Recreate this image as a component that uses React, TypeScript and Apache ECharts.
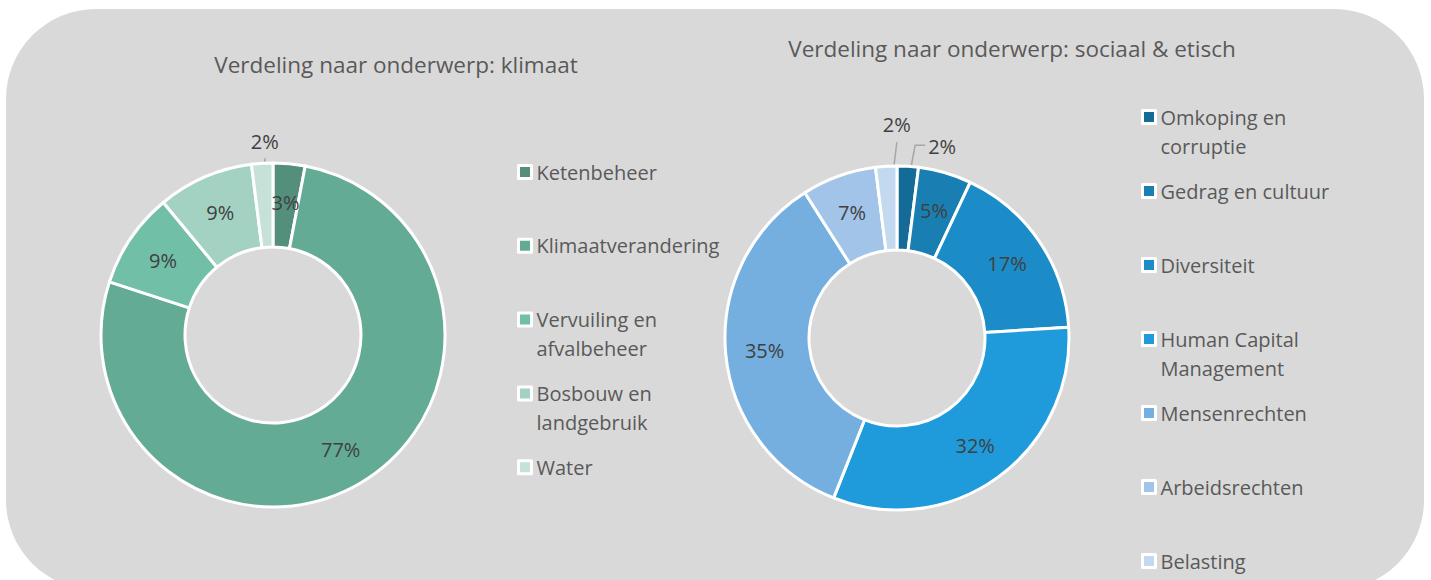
import React, { useEffect, useRef } from "react";
import * as echarts from "echarts";

// ---- Data ----
const climateTitle = "Verdeling naar onderwerp: klimaat";
const climateCategories = [
  "Ketenbeheer",
  "Klimaatverandering",
  "Vervuiling en\nafvalbeheer",
  "Bosbouw en\nlandgebruik",
  "Water",
];
const climateValues = [3, 77, 9, 9, 2];
const climateColors = ["#548f7b", "#64ab96", "#71bfa7", "#a3d1c2", "#c6e2d8"];

const socialTitle = "Verdeling naar onderwerp: sociaal & etisch";
const socialCategories = [
  "Omkoping en\ncorruptie",
  "Gedrag en cultuur",
  "Diversiteit",
  "Human Capital\nManagement",
  "Mensenrechten",
  "Arbeidsrechten",
  "Belasting",
];
const socialValues = [2, 5, 17, 32, 35, 7, 2];
const socialColors = ["#156b97", "#197fb2", "#1b8cc7", "#1f9bdb", "#74afdf", "#a1c4e8", "#c3d9f0"];

// ---- Layout ----
const FONT = '"Open Sans", "Noto Sans", sans-serif';
const LINE_H = 29;
const R_IN = 88;
const R_OUT = 172;
const R_MID = (R_IN + R_OUT) / 2;

type Leader = "up" | "elbow" | "slant";
interface PieCfg {
  title: string;
  titleX: number;
  titleY: number;
  center: [number, number];
  names: string[];
  values: number[];
  colors: string[];
  legendLeft: number;
  legendFirstY: number;
  legendStep: number;
  leaders: Record<number, Leader>;
}

const pies: PieCfg[] = [
  {
    title: climateTitle,
    titleX: 396,
    titleY: 64,
    center: [273, 335],
    names: climateCategories,
    values: climateValues,
    colors: climateColors,
    legendLeft: 517,
    legendFirstY: 172,
    legendStep: 73.8,
    leaders: { 4: "up" },
  },
  {
    title: socialTitle,
    titleX: 1012,
    titleY: 48,
    center: [897, 338],
    names: socialCategories,
    values: socialValues,
    colors: socialColors,
    legendLeft: 1141,
    legendFirstY: 117,
    legendStep: 74,
    leaders: { 0: "elbow", 6: "slant" },
  },
];

function midAngle(values: number[], idx: number): number {
  const total = values.reduce((a, b) => a + b, 0);
  let cum = 0;
  for (let j = 0; j < idx; j++) cum += values[j];
  return ((cum + values[idx] / 2) / total) * Math.PI * 2;
}

export default function App() {
  const ref = useRef<HTMLDivElement>(null);

  useEffect(() => {
    if (!ref.current) return;
    const chart = echarts.init(ref.current, undefined, { renderer: "svg" });

    const series = pies.map((c) => ({
      type: "pie",
      center: c.center,
      radius: [R_IN, R_OUT],
      startAngle: 90,
      clockwise: true,
      avoidLabelOverlap: false,
      emphasis: { disabled: true },
      itemStyle: { borderColor: "#ffffff", borderWidth: 3 },
      label: {
        show: true,
        position: "inside",
        color: "#404040",
        fontSize: 20,
        fontFamily: FONT,
        formatter: (p: any) => `${Math.round(p.percent)}%`,
      },
      labelLine: { show: false },
      data: c.names.map((n, i) => {
        const item: any = { name: n, value: c.values[i], itemStyle: { color: c.colors[i] } };
        if (c.leaders[i]) {
          item.label = { position: "outside" };
          item.labelLine = {
            show: true,
            length: 10,
            length2: 10,
            lineStyle: { color: "#a6a6a6", width: 1.5 },
          };
        }
        return item;
      }),
      labelLayout: (params: any) => {
        const kind = c.leaders[params.dataIndex];
        if (!kind) return {};
        const a = midAngle(c.values, params.dataIndex);
        const sx = c.center[0] + R_MID * Math.sin(a);
        const sy = c.center[1] - R_MID * Math.cos(a);
        if (kind === "up") {
          return {
            x: sx,
            y: sy - 64,
            align: "center",
            verticalAlign: "middle",
            labelLinePoints: [
              [sx, sy],
              [sx, sy - 30],
              [sx, sy - 47],
            ],
          };
        }
        if (kind === "elbow") {
          return {
            x: sx + 23,
            y: sy - 62,
            align: "left",
            verticalAlign: "middle",
            labelLinePoints: [
              [sx - 2, sy],
              [sx + 10, sy - 63],
              [sx + 20, sy - 63],
            ],
          };
        }
        return {
          x: sx + 8,
          y: sy - 84,
          align: "center",
          verticalAlign: "middle",
          labelLinePoints: [
            [sx, sy],
            [sx + 4, sy - 33],
            [sx + 8, sy - 66],
          ],
        };
      },
    }));

    const legends = pies.flatMap((c) =>
      c.names.map((n, i) => {
        const lines = n.split("\n").length;
        const H = LINE_H * (2 * lines - 1);
        const y = c.legendFirstY + i * c.legendStep;
        return {
          data: [n],
          orient: "vertical",
          left: c.legendLeft,
          top: y - H / 2,
          padding: 0,
          icon: "rect",
          itemWidth: 13,
          itemHeight: 13,
          itemStyle: { borderColor: "#ffffff", borderWidth: 3 },
          selectedMode: false,
          // Multi-line names get leading empty lines so that their first line sits beside the icon.
          formatter: (name: string) => "\n".repeat(lines - 1) + name,
          textStyle: {
            fontFamily: FONT,
            fontSize: 20,
            color: "#595959",
            lineHeight: LINE_H,
          },
        };
      })
    );

    chart.setOption({
      animation: false,
      legend: legends,
      graphic: [
        {
          type: "rect",
          z: -10,
          silent: true,
          shape: { x: 6, y: 9, width: 1418, height: 581, r: 90 },
          style: { fill: "#d9d9d9" },
        },
        ...pies.map((c) => ({
          type: "text",
          x: c.titleX,
          y: c.titleY,
          silent: true,
          style: {
            text: c.title,
            fill: "#595959",
            fontSize: 22.5,
            fontFamily: FONT,
            align: "center",
            verticalAlign: "middle",
          },
        })),
      ],
      series,
    });

    return () => chart.dispose();
  }, []);

  return (
    <div
      ref={ref}
      style={{ position: "absolute", left: 0, top: 0, width: 1431, height: 580 }}
    />
  );
}
